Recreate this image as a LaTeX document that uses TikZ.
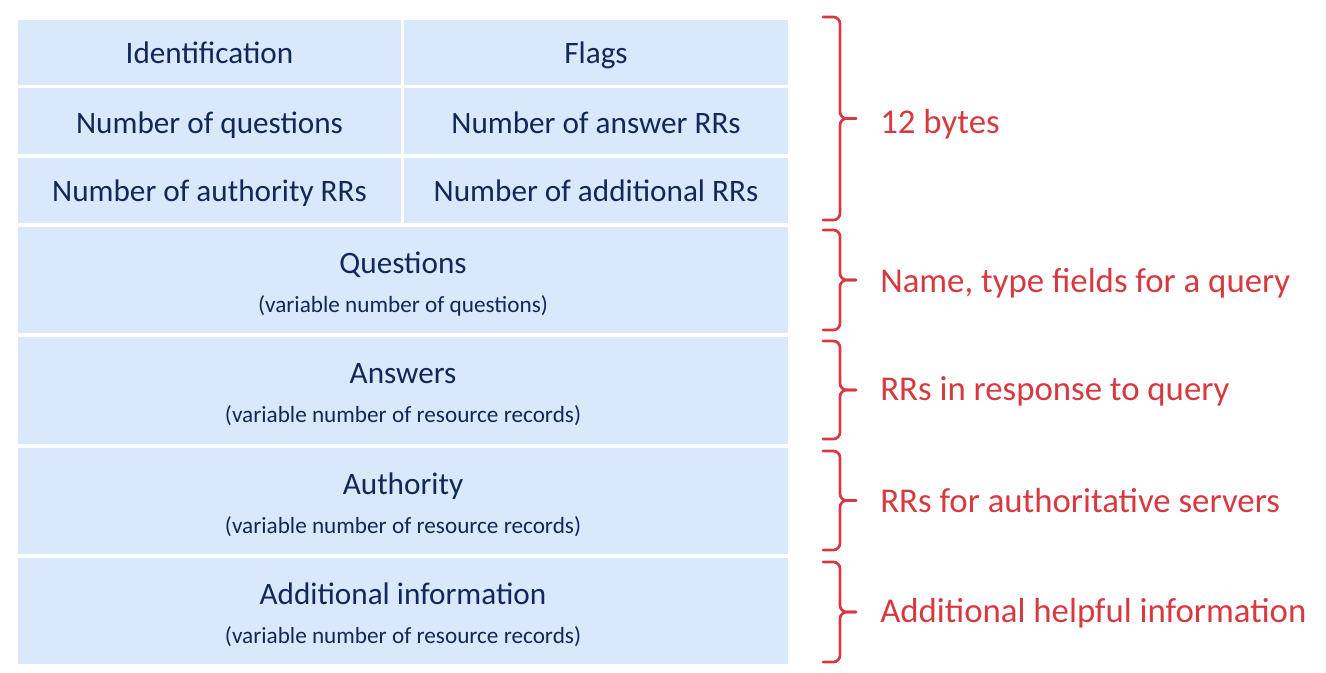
\documentclass[tikz,border=0pt]{standalone}
\usepackage{fontspec}
\setmainfont{Carlito}
\definecolor{cellfill}{RGB}{218,232,252}
\definecolor{ink}{RGB}{17,40,88}
\definecolor{note}{RGB}{214,58,64}
\begin{document}
\begin{tikzpicture}[x=0.75pt,y=-0.75pt,
  cell/.style 2 args={fill=cellfill, draw=none, inner sep=0pt,
    minimum width=#1*0.75pt, minimum height=#2*0.75pt},
  field/.style={text=ink, inner sep=0pt, anchor=base, font=\fontsize{23.4}{27}\selectfont},
  sub/.style={text=ink, inner sep=0pt, anchor=base, font=\fontsize{17.4}{20}\selectfont},
  note/.style={text=note, inner sep=0pt, anchor=base west, font=\fontsize{26.1}{30}\selectfont},
  brace/.style={draw=note, line width=2pt, rounded corners=5pt, line cap=round}]
\useasboundingbox (0,0) rectangle (1326,672);

% fixed 12-byte header: three rows of two fields
\node[cell={383}{65}] (id)    at (209.5,52.5) {};
\node[cell={384}{65}] (flags) at (596,52.5)   {};
\node[cell={383}{66}] (nq)    at (209.5,121)  {};
\node[cell={384}{66}] (nans)  at (596,121)    {};
\node[cell={383}{65}] (nauth) at (209.5,190.5) {};
\node[cell={384}{65}] (nadd)  at (596,190.5)  {};

\node[field] (idt)    at ([yshift=-11*0.75pt]id.center)    {Identification};
\node[field] (flagst) at ([yshift=-11*0.75pt]flags.center) {Flags};
\node[field] (nqt)    at ([yshift=-12*0.75pt]nq.center)    {Number of questions};
\node[field] (nanst)  at ([yshift=-12*0.75pt]nans.center)  {Number of answer RRs};
\node[field] (nautht) at ([yshift=-11*0.75pt]nauth.center) {Number of authority RRs};
\node[field] (naddt)  at ([yshift=-11*0.75pt]nadd.center)  {Number of additional RRs};

% variable-length sections
\node[cell={770}{106}] (q)    at (403,280)   {};
\node[cell={770}{107}] (ans)  at (403,390.5) {};
\node[cell={770}{106}] (auth) at (403,501)   {};
\node[cell={770}{106}] (add)  at (403,611)   {};

\foreach \c/\title/\desc in {q/Questions/(variable number of questions),
    ans/Answers/(variable number of resource records),
    auth/Authority/(variable number of resource records),
    add/Additional information/(variable number of resource records)} {
  \node[field] (\c t) at ([yshift=7*0.75pt]\c.center) {\title};
  \node[sub]   (\c d) at ([yshift=-32*0.75pt]\c.center) {\desc};
}

% braces with their notes
\foreach \n/\t/\b in {hdr/17/220, qb/230/330, ab/341/439, rb/451/550, xb/562/662} {
  \pgfmathsetmacro\m{(\t+\b)/2}
  \coordinate (\n) at (856,\m);
  \draw[brace] (823,\t) -- (840,\t) -- (840,\m) -- (\n);
  \draw[brace] (\n) -- (840,\m) -- (840,\b) -- (823,\b);
}
\node[note] (hdrl) at (880,133) {12 bytes};
\node[note] (qbl)  at (880,292) {Name, type fields for a query};
\node[note] (abl)  at (880,400) {RRs in response to query};
\node[note] (rbl)  at (880,512) {RRs for authoritative servers};
\node[note] (xbl)  at (880,622) {Additional helpful information};
\end{tikzpicture}
\end{document}
